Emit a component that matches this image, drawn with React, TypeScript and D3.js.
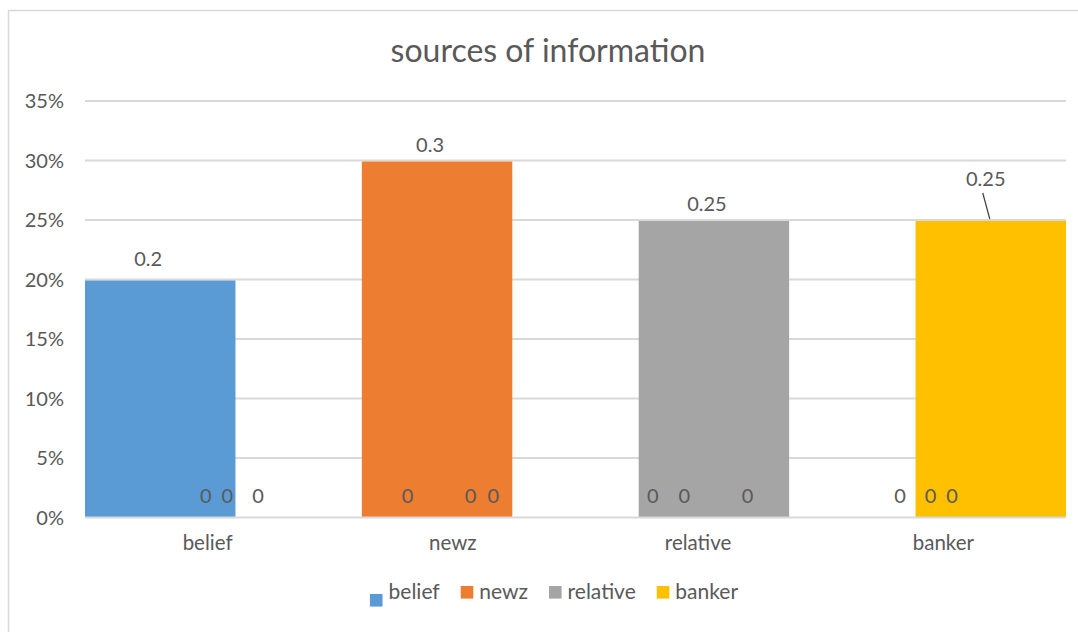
import React, { useEffect, useRef } from "react";
import * as d3 from "d3";

// Chart content
const title = "sources of information";
const categories = ["belief", "newz", "relative", "banker"];
const seriesNames = ["belief", "newz", "relative", "banker"];
const seriesColors = ["#5B9BD5", "#ED7D31", "#A5A5A5", "#FFC000"];
// values[series][category]
const beliefValues = [0.2, 0, 0, 0];
const newzValues = [0, 0.3, 0, 0];
const relativeValues = [0, 0, 0.25, 0];
const bankerValues = [0, 0, 0, 0.25];
const yTicks = [0, 0.05, 0.1, 0.15, 0.2, 0.25, 0.3, 0.35];

// Hand-placed label nudges [series][category] -> [dx, dy]
const labelNudge: Record<string, [number, number]> = {
  "0-0": [-12, -5],
  "1-1": [-7, 0],
  "2-2": [-7, 0],
  "3-3": [-5, -25],
  "1-0": [14, 0],
  "2-0": [4, 0],
  "3-0": [3, 0],
  "0-1": [2, 0],
  "2-1": [2, 0],
  "3-1": [-7, 0],
  "0-2": [2, 0],
  "1-2": [2, 0],
  "3-2": [2, 0],
  "0-3": [4, 0],
  "1-3": [3, 0],
  "2-3": [-7, 0],
};
const leaderLines = new Set(["3-3"]);

const FONT = "Lato, 'Open Sans', sans-serif";
const TEXT = "#595959";
const GRID = "#D9D9D9";

export default function App() {
  const ref = useRef<SVGSVGElement | null>(null);

  useEffect(() => {
    const svg = d3.select(ref.current);
    svg.selectAll("*").remove();

    const W = 1078;
    const H = 632;
    const plot = { left: 85, right: 1066, top: 101, bottom: 517.5 };

    const seriesValues = [beliefValues, newzValues, relativeValues, bankerValues];

    // outer frame (only top and left edges fall inside the view)
    svg
      .append("rect")
      .attr("x", 8.5)
      .attr("y", 10.5)
      .attr("width", W + 40)
      .attr("height", H + 40)
      .attr("fill", "#fff")
      .attr("stroke", GRID)
      .attr("stroke-width", 1.5);

    svg
      .append("text")
      .attr("x", 548)
      .attr("y", 62)
      .attr("text-anchor", "middle")
      .attr("font-family", FONT)
      .attr("font-size", 32)
      .attr("fill", TEXT)
      .text(title);

    const y = d3.scaleLinear().domain([0, 0.35]).range([plot.bottom, plot.top]);
    const x0 = d3.scaleBand<string>().domain(categories).range([plot.left, plot.right]).padding(0);

    // overlapping series slots inside each category (gap width 0)
    const overlap = 0.79;
    const n = seriesNames.length;
    const bw = x0.bandwidth() / (1 + (n - 1) * (1 - overlap));
    const step = bw * (1 - overlap);
    const slotX = (ci: number, si: number) => (x0(categories[ci]) as number) + si * step;

    // gridlines
    svg
      .append("g")
      .selectAll("line")
      .data(yTicks.filter((t) => t > 0))
      .join("line")
      .attr("x1", plot.left)
      .attr("x2", plot.right)
      .attr("y1", (d) => y(d))
      .attr("y2", (d) => y(d))
      .attr("stroke", GRID)
      .attr("stroke-width", 1.8);

    // y tick labels
    const fmt = d3.format(".0%");
    svg
      .append("g")
      .selectAll("text")
      .data(yTicks)
      .join("text")
      .attr("x", 64)
      .attr("y", (d) => y(d))
      .attr("dy", "0.35em")
      .attr("text-anchor", "end")
      .attr("font-family", FONT)
      .attr("font-size", 20)
      .attr("fill", TEXT)
      .text((d) => fmt(d));

    // bars
    const bars = svg.append("g");
    seriesValues.forEach((vals, si) => {
      vals.forEach((v, ci) => {
        if (v <= 0) return;
        bars
          .append("rect")
          .attr("x", slotX(ci, si))
          .attr("y", y(v) + 1)
          .attr("width", bw)
          .attr("height", y(0) - y(v) - 1)
          .attr("fill", seriesColors[si]);
      });
    });

    // baseline
    svg
      .append("line")
      .attr("x1", plot.left)
      .attr("x2", plot.right)
      .attr("y1", y(0))
      .attr("y2", y(0))
      .attr("stroke", GRID)
      .attr("stroke-width", 1.8);

    // data labels
    const labels = svg.append("g");
    seriesValues.forEach((vals, si) => {
      vals.forEach((v, ci) => {
        const key = `${si}-${ci}`;
        const [dx, dy] = labelNudge[key] || [0, 0];
        const cx = slotX(ci, si) + bw / 2;
        const baseY = v > 0 ? y(v) - 9 : y(0) - 14.5;
        const lx = cx + dx;
        const ly = baseY + dy;
        labels
          .append("text")
          .attr("x", lx)
          .attr("y", ly)
          .attr("text-anchor", "middle")
          .attr("font-family", FONT)
          .attr("font-size", 20)
          .attr("fill", TEXT)
          .text(String(v));
        if (leaderLines.has(key)) {
          labels
            .append("line")
            .attr("x1", lx - 3)
            .attr("y1", ly + 7)
            .attr("x2", cx - 1)
            .attr("y2", y(v) - 1)
            .attr("stroke", "#404040")
            .attr("stroke-width", 1.2);
        }
      });
    });

    // category labels
    svg
      .append("g")
      .selectAll("text")
      .data(categories)
      .join("text")
      .attr("x", (d) => (x0(d) as number) + x0.bandwidth() / 2)
      .attr("y", 550)
      .attr("text-anchor", "middle")
      .attr("font-family", FONT)
      .attr("font-size", 20.5)
      .attr("fill", TEXT)
      .text((d) => d);

    // legend, laid out from measured text widths
    const legend = svg.append("g");
    const sq = 12.6;
    const gapText = 6;
    const gapItem = 21;
    const items = seriesNames.map((name, i) => {
      const g = legend.append("g");
      const t = g
        .append("text")
        .attr("font-family", FONT)
        .attr("font-size", 21)
        .attr("fill", TEXT)
        .text(name);
      const w = (t.node() as SVGTextElement).getComputedTextLength();
      return { g, t, w, i };
    });
    const total = items.reduce((s, it) => s + sq + gapText + it.w, 0) + gapItem * (items.length - 1);
    let cursor = 554 - total / 2;
    items.forEach(({ g, t, w, i }) => {
      g.append("rect")
        .attr("x", cursor)
        .attr("y", i === 0 ? 594 : 586)
        .attr("width", sq)
        .attr("height", sq)
        .attr("fill", seriesColors[i]);
      t.attr("x", cursor + sq + gapText).attr("y", 599);
      cursor += sq + gapText + w + gapItem;
    });
  }, []);

  return (
    <svg
      ref={ref}
      width={1078}
      height={632}
      style={{ position: "absolute", left: 0, top: 0, background: "#fff" }}
    />
  );
}
